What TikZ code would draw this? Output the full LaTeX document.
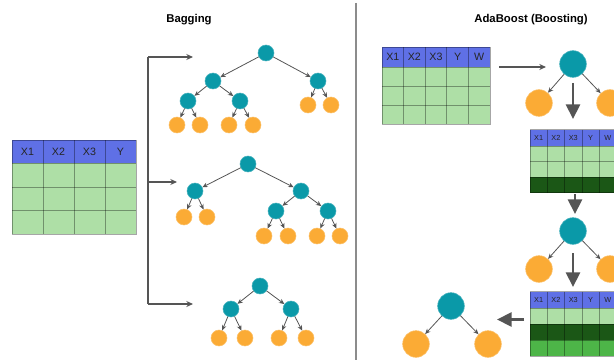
\documentclass[tikz,border=0pt]{standalone}
\usepackage{fontspec}
\setmainfont{Liberation Sans}
\usetikzlibrary{arrows.meta}
\definecolor{inner}{HTML}{0A99A8}
\definecolor{leaf}{HTML}{FBAB35}
\definecolor{head}{HTML}{5F70E6}
\definecolor{cell}{HTML}{AEDFA6}
\definecolor{cellbad}{HTML}{1B5716}
\definecolor{cellmid}{HTML}{4DB548}
\definecolor{edge}{HTML}{555555}

\begin{document}
\begin{tikzpicture}[x=0.75pt,y=-0.75pt,
  splitdot/.style={circle,fill=inner,draw=inner!75!white,line width=0.4pt,minimum size=12pt,inner sep=0pt},
  leafdot/.style={circle,fill=leaf,draw=leaf!75!white,line width=0.4pt,minimum size=12pt,inner sep=0pt},
  bigsplit/.style={splitdot,minimum size=20pt},
  bigleaf/.style={leafdot,minimum size=20pt},
  link/.style={draw=edge,line width=0.6pt,-{Stealth[length=4pt,width=3.5pt]}},
  feed/.style={draw=edge,line width=0.8pt,-{Stealth[length=5pt,width=4.5pt]}},
  bigflow/.style={draw=edge,line width=2.2pt,-{Triangle[length=11pt,width=10.5pt]}},
  gridline/.style={draw=black,draw opacity=0.35,line width=0.6pt},
  hdr/.style={font=\fontsize{8}{9}\selectfont,text=black!85,inner sep=0pt},
  smallhdr/.style={font=\fontsize{5.5}{6}\selectfont,text=black!85,inner sep=0pt},
  title/.style={font=\bfseries\fontsize{8.5}{10}\selectfont,inner sep=0pt}]
\clip (0,0) rectangle (614,360);
\fill[white] (0,0) rectangle (614,360);

% titles and divider
\node[title] (bagtitle) at (189,20) {Bagging};
\node[title] (adatitle) at (531,20) {AdaBoost (Boosting)};
\coordinate (divtop) at (356,3);
\coordinate (divbot) at (356,360);
\draw[draw=black!45,line width=0.9pt] (divtop) -- (divbot);

% bagging data table
\fill[head] (12,140) rectangle (136,163);
\fill[cell] (12,163) rectangle (136,234);
\foreach \x in {43,74,105} \draw[gridline] (\x,140) -- (\x,234);
\foreach \y in {163,187,210} \draw[gridline] (12,\y) -- (136,\y);
\draw[gridline] (12,140) rectangle (136,234);
\foreach \t [count=\i] in {X1,X2,X3,Y}
  \node[hdr] (lh\i) at (12+31*\i-15.5,151.5) {\t};

% bootstrap bracket
\coordinate (btop) at (148,57);
\coordinate (bmid) at (148,182);
\coordinate (bbot) at (148,304);
\coordinate (e1) at (193,57);
\coordinate (e2) at (177,182);
\coordinate (e3) at (193,304);
\draw[draw=edge,line width=0.8pt] (btop) -- (bbot);
\draw[feed] (btop) -- (e1);
\draw[feed] (bmid) -- (e2);
\draw[feed] (bbot) -- (e3);

% bagging tree 1
\node[splitdot] (b1r) at (266,53) {};
\node[splitdot] (b1a) at (213,81) {};
\node[splitdot] (b1b) at (318,81) {};
\node[splitdot] (b1c) at (188,101) {};
\node[splitdot] (b1d) at (240,101) {};
\node[leafdot] (b1e) at (177,125) {};
\node[leafdot] (b1f) at (200,125) {};
\node[leafdot] (b1g) at (229,125) {};
\node[leafdot] (b1h) at (253,125) {};
\node[leafdot] (b1i) at (308,105) {};
\node[leafdot] (b1j) at (331,105) {};
\foreach \p/\c in {b1r/b1a,b1r/b1b,b1a/b1c,b1a/b1d,b1c/b1e,b1c/b1f,b1d/b1g,b1d/b1h,b1b/b1i,b1b/b1j}
  \draw[link] (\p) -- (\c);

% bagging tree 2
\node[splitdot] (b2r) at (248,164) {};
\node[splitdot] (b2a) at (195,191) {};
\node[splitdot] (b2b) at (301,191) {};
\node[leafdot] (b2c) at (184,217) {};
\node[leafdot] (b2d) at (207,217) {};
\node[splitdot] (b2e) at (276,211) {};
\node[splitdot] (b2f) at (328,211) {};
\node[leafdot] (b2g) at (264,236) {};
\node[leafdot] (b2h) at (288,236) {};
\node[leafdot] (b2i) at (317,236) {};
\node[leafdot] (b2j) at (340,236) {};
\foreach \p/\c in {b2r/b2a,b2r/b2b,b2a/b2c,b2a/b2d,b2b/b2e,b2b/b2f,b2e/b2g,b2e/b2h,b2f/b2i,b2f/b2j}
  \draw[link] (\p) -- (\c);

% bagging tree 3
\node[splitdot] (b3r) at (260,286) {};
\node[splitdot] (b3a) at (231,309) {};
\node[splitdot] (b3b) at (291,309) {};
\node[leafdot] (b3c) at (219,338) {};
\node[leafdot] (b3d) at (245,338) {};
\node[leafdot] (b3e) at (279,338) {};
\node[leafdot] (b3f) at (306,338) {};
\foreach \p/\c in {b3r/b3a,b3r/b3b,b3a/b3c,b3a/b3d,b3b/b3e,b3b/b3f}
  \draw[link] (\p) -- (\c);

% boosting: weighted table
\fill[head] (382,47) rectangle (490,67);
\fill[cell] (382,67) rectangle (490,124);
\foreach \x in {403.6,425.2,446.8,468.4} \draw[gridline] (\x,47) -- (\x,124);
\foreach \y in {67,86,105} \draw[gridline] (382,\y) -- (490,\y);
\draw[gridline] (382,47) rectangle (490,124);
\foreach \t [count=\i] in {X1,X2,X3,Y,W}
  \node[hdr] (rh\i) at (382+21.6*\i-10.8,57) {\t};

% boosting: first stump
\node[bigsplit] (a1r) at (573,64) {};
\node[bigleaf] (a1l) at (539,103) {};
\node[bigleaf] (a1m) at (610,103) {};
\draw[link] (a1r) -- (a1l);
\draw[link] (a1r) -- (a1m);
\coordinate (f0s) at (499,67);
\coordinate (f0e) at (546,67);
\draw[feed] (f0s) -- (f0e);
\coordinate (f1s) at (573,83);
\coordinate (f1e) at (573,119);
\draw[bigflow] (f1s) -- (f1e);

% boosting: reweighted table 2
\fill[head] (530,129.5) rectangle (617,146);
\fill[cell] (530,146) rectangle (617,177.2);
\fill[cellbad] (530,177.2) rectangle (617,192.7);
\foreach \x in {547.3,564.6,581.9,599.2} \draw[gridline] (\x,129.5) -- (\x,192.7);
\foreach \y in {146,161.7,177.2} \draw[gridline] (530,\y) -- (617,\y);
\draw[gridline] (530,129.5) rectangle (617,192.7);
\foreach \t [count=\i] in {X1,X2,X3,Y,W}
  \node[smallhdr] (sh\i) at (530+17.3*\i-8.65,137.8) {\t};
\coordinate (f2s) at (575,194);
\coordinate (f2e) at (575,214);
\draw[bigflow] (f2s) -- (f2e);

% boosting: second stump
\node[bigsplit] (a2r) at (573,231) {};
\node[bigleaf] (a2l) at (539,269) {};
\node[bigleaf] (a2m) at (610,269) {};
\draw[link] (a2r) -- (a2l);
\draw[link] (a2r) -- (a2m);
\coordinate (f3s) at (573,253);
\coordinate (f3e) at (573,287);
\draw[bigflow] (f3s) -- (f3e);

% boosting: reweighted table 3
\fill[head] (530,291.7) rectangle (617,308.3);
\fill[cell] (530,308.3) rectangle (617,324.3);
\fill[cellbad] (530,324.3) rectangle (617,340.2);
\fill[cellmid] (530,340.2) rectangle (617,356);
\foreach \x in {547.3,564.6,581.9,599.2} \draw[gridline] (\x,291.7) -- (\x,356);
\foreach \y in {308.3,324.3,340.2} \draw[gridline] (530,\y) -- (617,\y);
\draw[gridline] (530,291.7) rectangle (617,356);
\foreach \t [count=\i] in {X1,X2,X3,Y,W}
  \node[smallhdr] (th\i) at (530+17.3*\i-8.65,300) {\t};
\coordinate (f4s) at (524,319.5);
\coordinate (f4e) at (497,319.5);
\draw[bigflow] (f4s) -- (f4e);

% boosting: next stump
\node[bigsplit] (a3r) at (451,306) {};
\node[bigleaf] (a3l) at (416,344) {};
\node[bigleaf] (a3m) at (488,344) {};
\draw[link] (a3r) -- (a3l);
\draw[link] (a3r) -- (a3m);
\end{tikzpicture}
\end{document}
